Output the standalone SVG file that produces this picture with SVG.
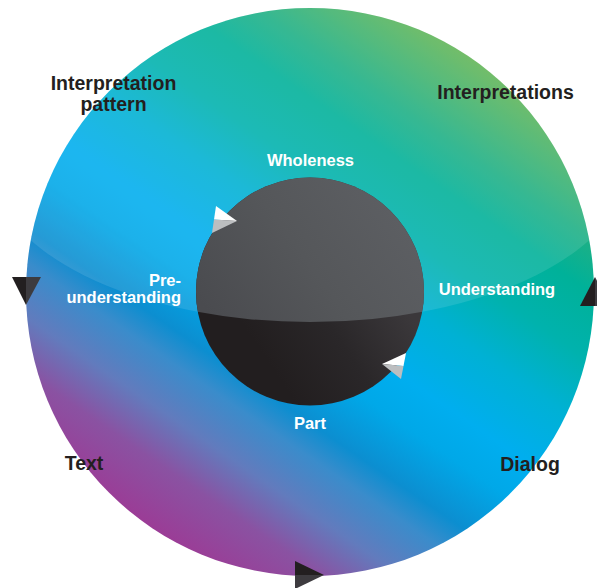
<svg xmlns="http://www.w3.org/2000/svg" width="597" height="588" viewBox="0 0 597 588">
  <defs>
    <!-- main ring colour sweep: purple (lower left) to green (upper right) -->
    <linearGradient id="ringGrad" gradientUnits="userSpaceOnUse" x1="149" y1="526" x2="471" y2="58">
      <stop offset="0" stop-color="#9b3c96"/>
      <stop offset="0.10" stop-color="#8a52a2"/>
      <stop offset="0.18" stop-color="#627bbd"/>
      <stop offset="0.26" stop-color="#3a8ccb"/>
      <stop offset="0.31" stop-color="#0c8ed0"/>
      <stop offset="0.40" stop-color="#00a8e8"/>
      <stop offset="0.47" stop-color="#00aeef"/>
      <stop offset="0.58" stop-color="#00b1d4"/>
      <stop offset="0.68" stop-color="#00b2ad"/>
      <stop offset="0.78" stop-color="#00b199"/>
      <stop offset="0.86" stop-color="#1fb084"/>
      <stop offset="1" stop-color="#62b557"/>
    </linearGradient>
    <linearGradient id="coreTop" gradientUnits="userSpaceOnUse" x1="220" y1="330" x2="400" y2="200">
      <stop offset="0" stop-color="#4a4b4f"/>
      <stop offset="0.5" stop-color="#55575a"/>
      <stop offset="1" stop-color="#5d5f63"/>
    </linearGradient>
    <linearGradient id="coreBottom" gradientUnits="userSpaceOnUse" x1="280" y1="380" x2="400" y2="300">
      <stop offset="0" stop-color="#221e1f"/>
      <stop offset="0.5" stop-color="#2a2729"/>
      <stop offset="1" stop-color="#3b383b"/>
    </linearGradient>
    <clipPath id="ringClip">
      <circle cx="310" cy="292" r="284"/>
    </clipPath>
    <clipPath id="coreClip">
      <circle cx="310" cy="291.5" r="114"/>
    </clipPath>
    <!-- region above the gloss line -->
    <path id="glossArea" d="M -10 162 A 320 160 0 0 0 630 162 L 630 -10 L -10 -10 Z"/>
  </defs>
  <style>
    .dark { font-family: "Liberation Sans", Arial, sans-serif; font-weight: 700; font-size: 19.5px; fill: #231f20; text-anchor: middle; }
    .light { font-family: "Liberation Sans", Arial, sans-serif; font-weight: 700; font-size: 16.5px; fill: #ffffff; text-anchor: middle; }
    .end { text-anchor: end; }
    .tri-a { fill: #231f20; }
    .tri-b { fill: #3d3b3f; }
    .head-a { fill: #ffffff; }
    .head-b { fill: #bcbec0; }
  </style>

  <rect width="597" height="588" fill="#ffffff"/>

  <!-- outer ring -->
  <g id="ring">
    <circle cx="310" cy="292" r="284" fill="url(#ringGrad)"/>
    <use href="#glossArea" fill="#ffffff" fill-opacity="0.11" clip-path="url(#ringClip)"/>
  </g>

  <!-- inner core -->
  <g id="core">
    <circle cx="310" cy="291.5" r="114" fill="url(#coreBottom)"/>
    <use href="#glossArea" fill="url(#coreTop)" clip-path="url(#coreClip)"/>
  </g>

  <!-- arrowheads on the ring and the core -->
  <g id="connectors">
    <g id="arrow-left">
      <polygon class="tri-a" points="12,277 26,277 26,305"/>
      <polygon class="tri-b" points="26,277 41,277 26,305"/>
    </g>
    <g id="arrow-right">
      <polygon class="tri-a" points="595,277 580,306 595,306"/>
      <polygon class="tri-b" points="595,277 610,306 595,306"/>
    </g>
    <g id="arrow-bottom">
      <polygon class="tri-a" points="295,561 324,575 295,575"/>
      <polygon class="tri-b" points="295,575 324,575 295,589"/>
    </g>
    <g id="arrow-core-upper">
      <polygon class="head-a" points="216,206 237,221 214,219.5"/>
      <polygon class="head-b" points="214,219.5 237,221 212,233"/>
    </g>
    <g id="arrow-core-lower">
      <polygon class="head-a" points="406,353 382,364 403.5,366"/>
      <polygon class="head-b" points="382,364 401,379 403.5,366"/>
    </g>
  </g>

  <!-- outer labels -->
  <g id="interpretation-pattern">
    <text class="dark" x="113.5" y="90">Interpretation</text>
    <text class="dark" x="113.5" y="111">pattern</text>
  </g>
  <g id="interpretations">
    <text class="dark" x="505.5" y="99">Interpretations</text>
  </g>
  <g id="text-label">
    <text class="dark" x="84" y="470">Text</text>
  </g>
  <g id="dialog">
    <text class="dark" x="530" y="471">Dialog</text>
  </g>

  <!-- inner labels -->
  <g id="wholeness">
    <text class="light" x="310.5" y="165.5">Wholeness</text>
  </g>
  <g id="pre-understanding">
    <text class="light end" x="181" y="286">Pre-</text>
    <text class="light end" x="181" y="303">understanding</text>
  </g>
  <g id="understanding">
    <text class="light" x="497" y="295">Understanding</text>
  </g>
  <g id="part">
    <text class="light" x="310" y="429">Part</text>
  </g>
</svg>
